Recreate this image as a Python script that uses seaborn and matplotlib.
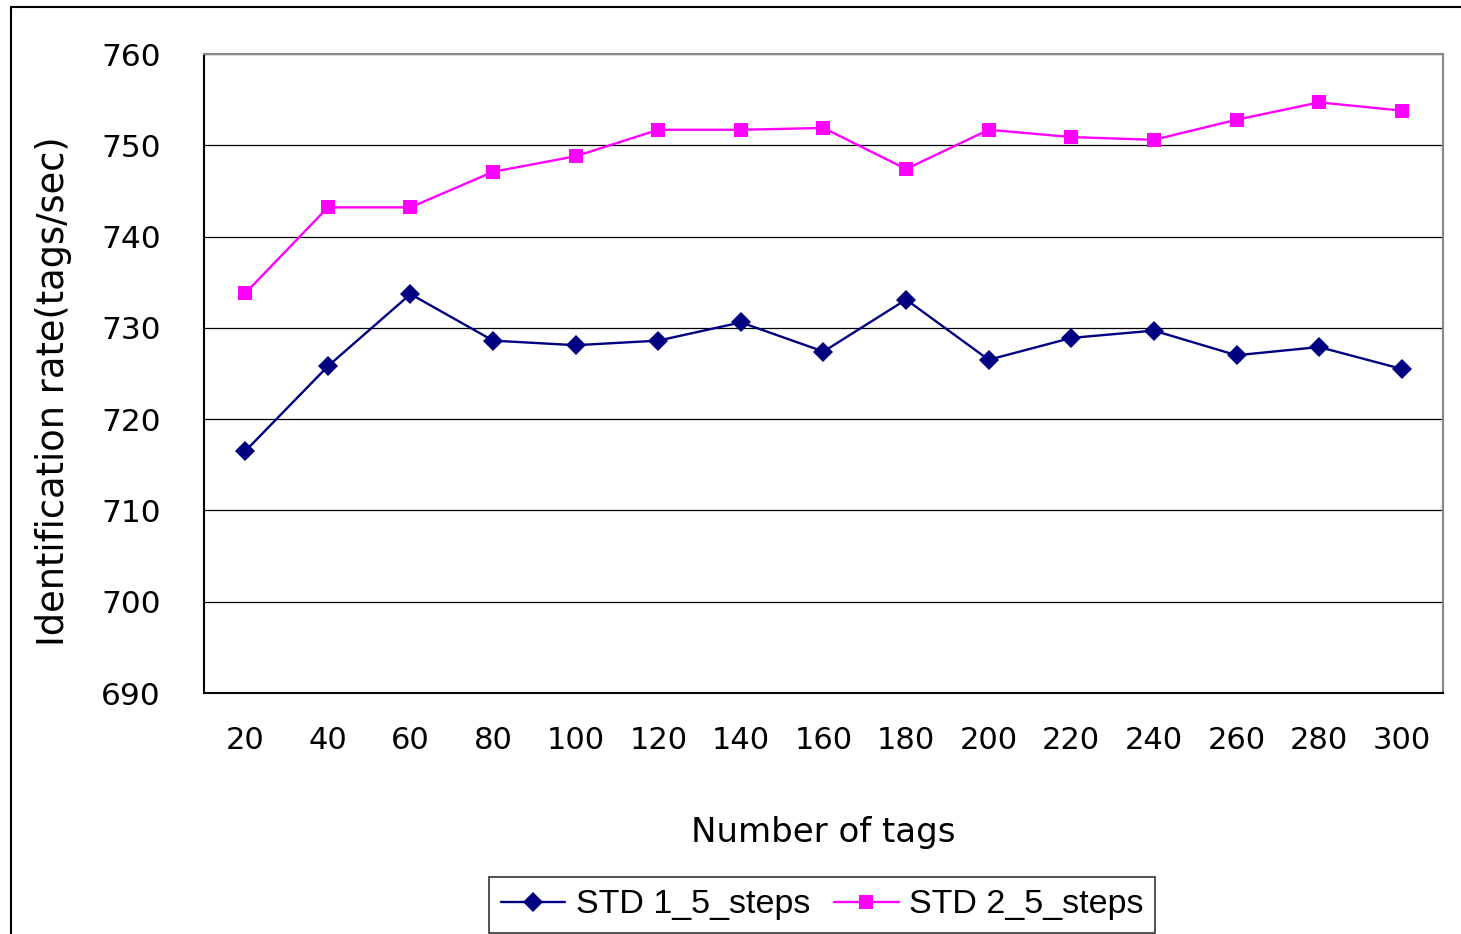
import matplotlib
matplotlib.use("Agg")
import matplotlib.pyplot as plt
from matplotlib.lines import Line2D
import seaborn as sns
import pandas as pd

tags = ["20", "40", "60", "80", "100", "120", "140", "160", "180", "200",
        "220", "240", "260", "280", "300"]
std1 = [716.5, 725.8, 733.7, 728.6, 728.1, 728.6, 730.6, 727.4, 733.1, 726.5,
        728.9, 729.7, 727.0, 727.9, 725.5]
std2 = [733.8, 743.2, 743.2, 747.1, 748.8, 751.7, 751.7, 751.9, 747.4, 751.7,
        750.9, 750.6, 752.8, 754.7, 753.8]
series_names = ["STD 1_5_steps", "STD 2_5_steps"]
y_ticks = [690, 700, 710, 720, 730, 740, 750, 760]

sns.set_theme(style="white")
plt.rcParams['font.family'] = ['DejaVu Sans']
plt.rcParams['text.color'] = 'black'
plt.rcParams['axes.labelcolor'] = 'black'
plt.rcParams['xtick.color'] = 'black'
plt.rcParams['ytick.color'] = 'black'

rows = []
for i, t in enumerate(tags):
    rows.append({"pos": i, "tags": t, "rate": std1[i], "series": series_names[0]})
for i, t in enumerate(tags):
    rows.append({"pos": i, "tags": t, "rate": std2[i], "series": series_names[1]})
df = pd.DataFrame(rows)

fig = plt.figure(figsize=(14.61, 9.34), dpi=100)
ax = fig.add_axes([204/1461, 1 - 693/934, (1443-204)/1461, (693-54)/934])

sns.lineplot(data=df, x="pos", y="rate", hue="series", style="series",
             markers={series_names[0]: "D", series_names[1]: "s"}, dashes=False,
             palette={series_names[0]: "#000080", series_names[1]: "#FF00FF"},
             markersize=10, linewidth=1.7, markeredgewidth=0, ax=ax, legend=False)

ax.set_xlim(-0.5, len(tags) - 0.5)
ax.set_ylim(690, 760)
ax.set_yticks(y_ticks)
ax.set_yticklabels([str(v) for v in y_ticks], fontsize=22.5)
ax.set_xticks(range(len(tags)))
ax.set_xticklabels(tags, fontsize=22)
ax.set_xticks([k - 0.5 for k in range(len(tags) + 1)], minor=True)
ax.tick_params(axis="x", which="major", length=0, pad=24)
ax.tick_params(axis="x", which="minor", direction="in", length=10, width=1, color="black")
ax.tick_params(axis="y", which="major", length=0, pad=31)
ax.yaxis.grid(True, color="black", linewidth=0.9)
ax.xaxis.grid(False)
ax.set_axisbelow(True)

for side in ["left", "bottom"]:
    ax.spines[side].set_color("black")
    ax.spines[side].set_linewidth(1.5)
for side in ["top", "right"]:
    ax.spines[side].set_color("#888888")
    ax.spines[side].set_linewidth(1.5)

ax.set_xlabel("Number of tags", fontsize=24.5, labelpad=44)
ax.set_ylabel("Identification rate(tags/sec)", fontsize=26.5)
ax.yaxis.set_label_coords((72 - 204) / 1239, 1 - (391 - 54) / 639)

# outer chart frame
fig.add_artist(Line2D([11/1461, 11/1461], [0, 1 - 7/934], color="black", linewidth=1.5,
                      transform=fig.transFigure))
fig.add_artist(Line2D([11/1461, 1], [1 - 7/934, 1 - 7/934], color="black", linewidth=1.5,
                      transform=fig.transFigure))

handles = [
    Line2D([], [], color="#000080", marker="D", markersize=10, linewidth=1.7, markeredgewidth=0),
    Line2D([], [], color="#FF00FF", marker="s", markersize=10, linewidth=1.7, markeredgewidth=0),
]
leg = fig.legend(handles, series_names, loc="center", bbox_to_anchor=(822/1461, 1 - 905/934),
                 ncol=2, frameon=True, fancybox=False, edgecolor="black",
                 prop={"family": "Liberation Sans", "size": 24.5},
                 handlelength=1.9, columnspacing=0.7, handletextpad=0.3, borderpad=0.36,
                 borderaxespad=0)
leg.get_frame().set_linewidth(1.2)

fig.savefig("out.png", dpi=100)
